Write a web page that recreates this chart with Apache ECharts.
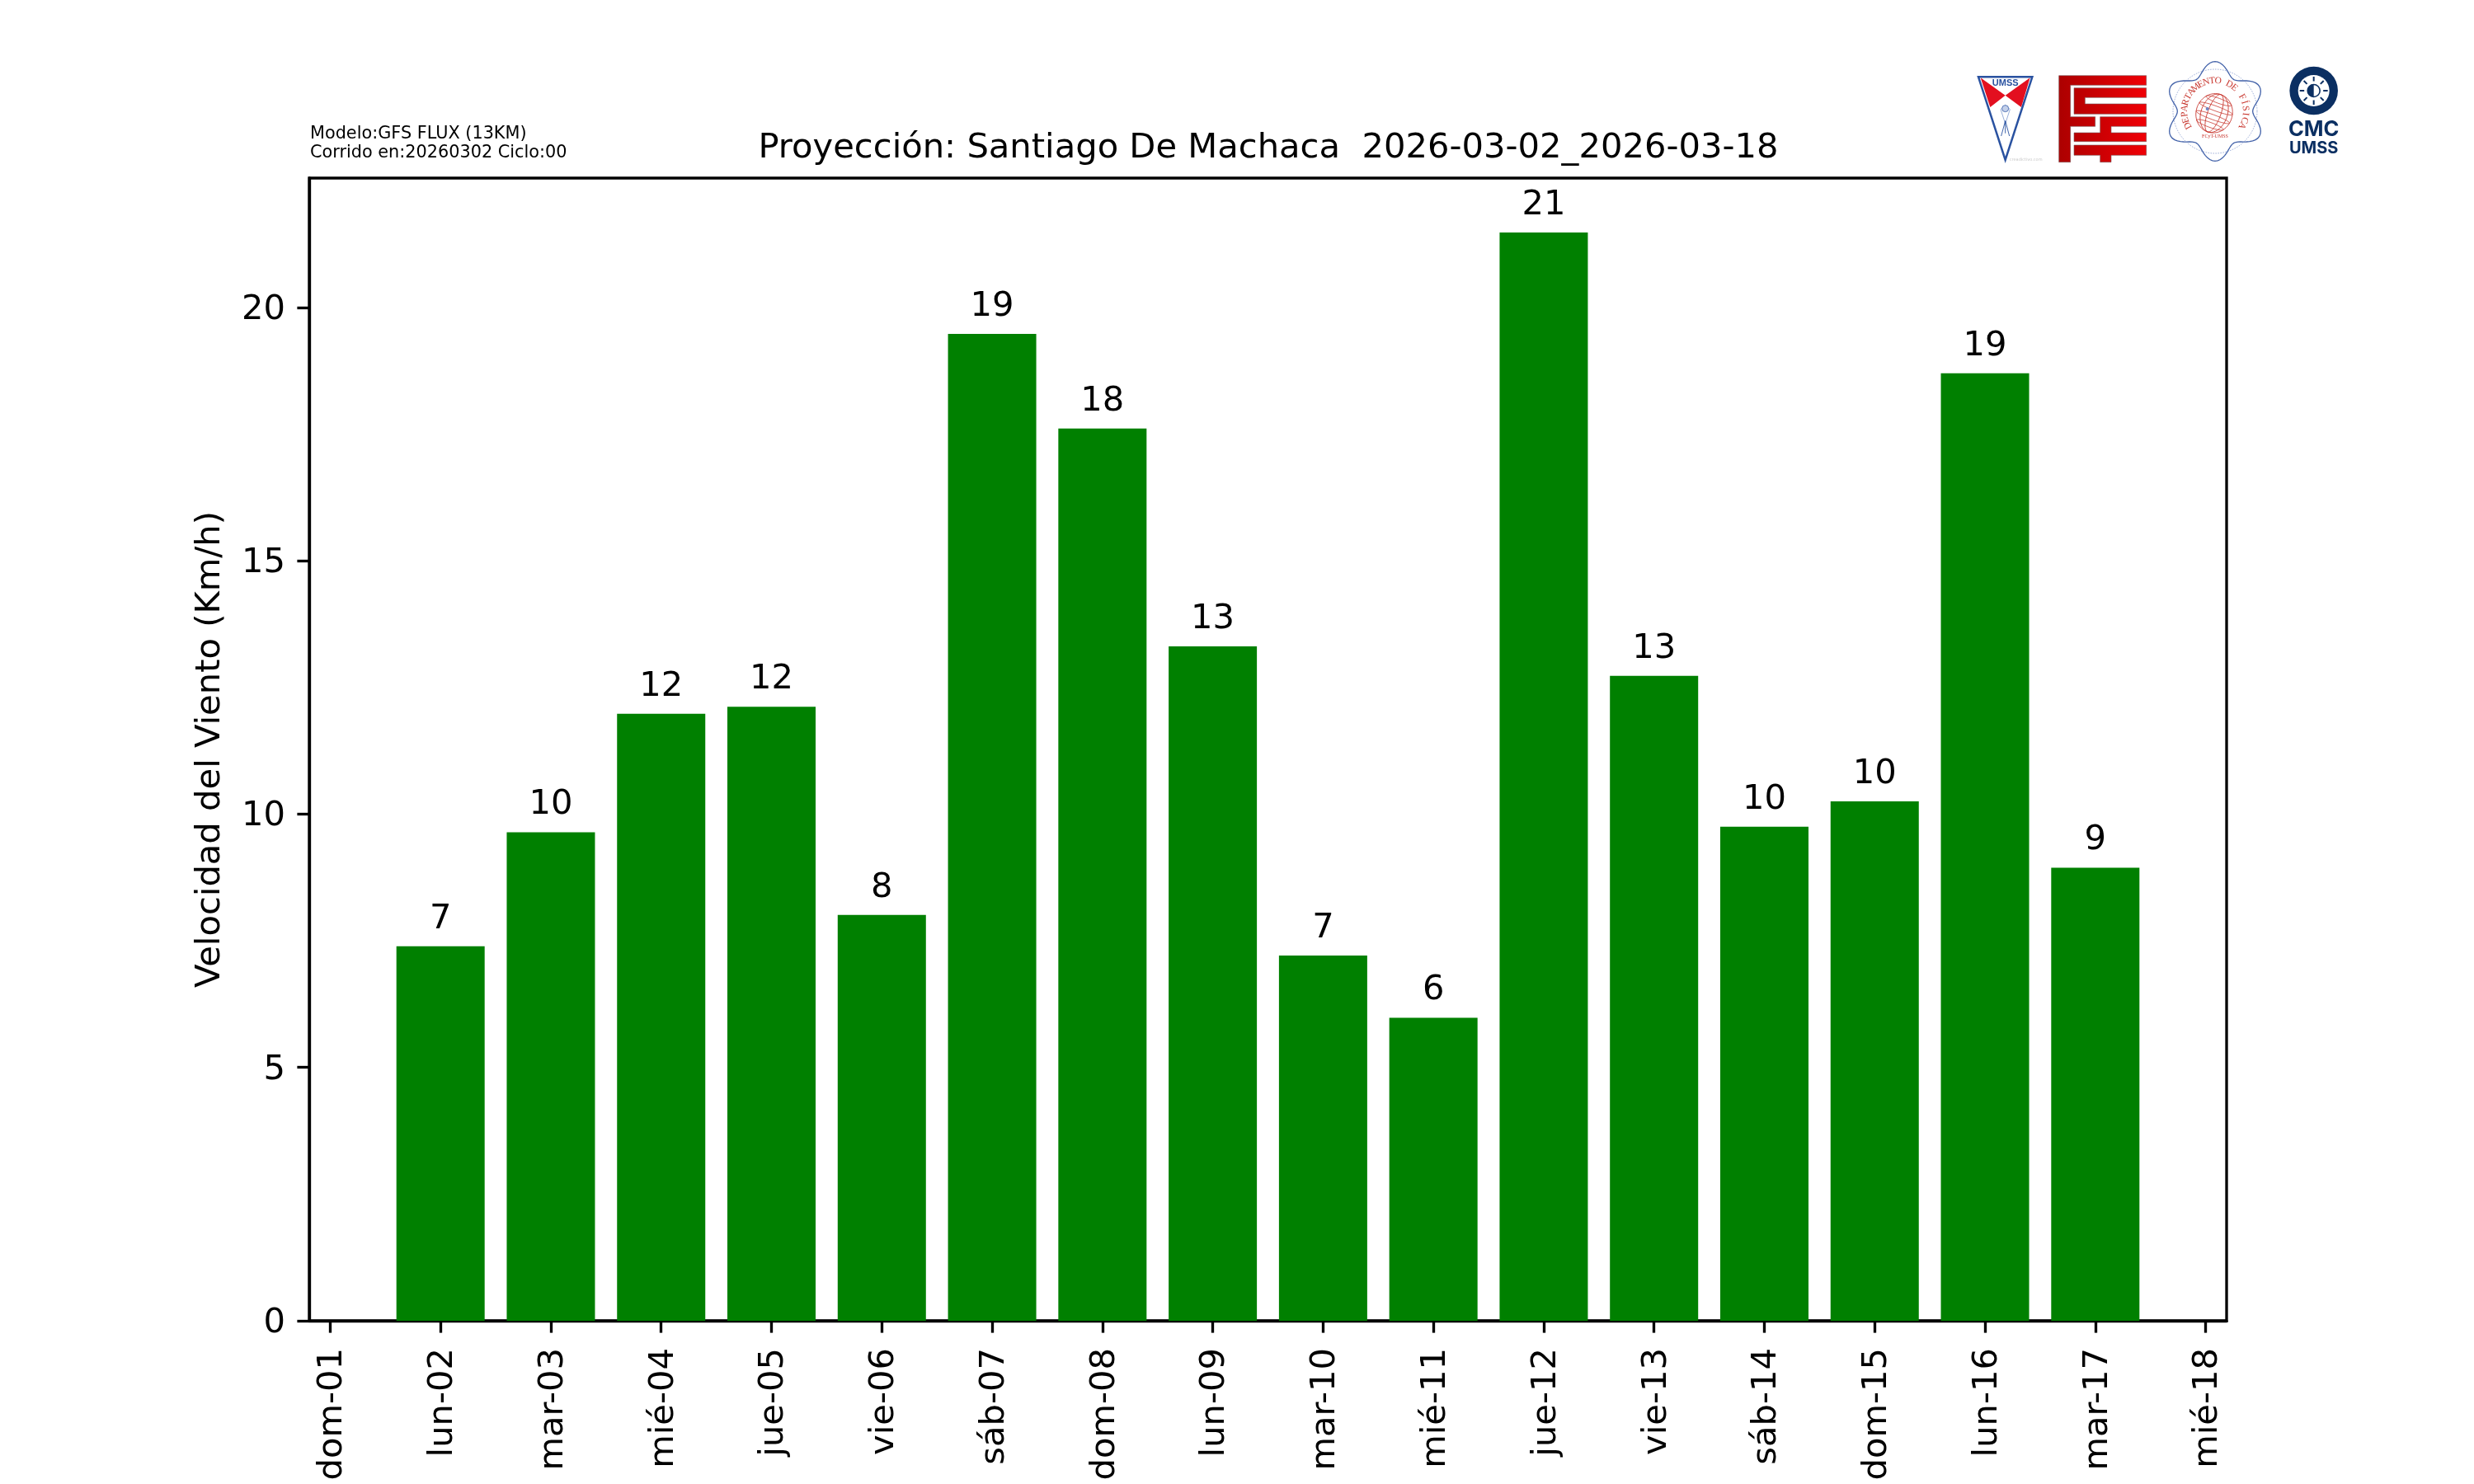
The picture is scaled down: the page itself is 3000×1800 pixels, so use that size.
<!DOCTYPE html>
<html>
<head>
<meta charset="utf-8">
<style>html,body{margin:0;padding:0;background:#fff}#c{width:3000px;height:1800px}</style>
<script src="https://cdn.jsdelivr.net/npm/echarts@6/dist/echarts.min.js"></script>
</head>
<body>
<div id="c"></div>
<script>
const tickDays = [1,2,3,4,5,6,7,8,9,10,11,12,13,14,15,16,17,18];
const tickLabels = ['dom-01','lun-02','mar-03','mié-04','jue-05','vie-06','sáb-07','dom-08','lun-09','mar-10','mié-11','jue-12','vie-13','sáb-14','dom-15','lun-16','mar-17','mié-18'];
const barDays = [2,3,4,5,6,7,8,9,10,11,12,13,14,15,16,17];
const windSpeed = [7.39,9.64,11.98,12.12,8.01,19.48,17.61,13.31,7.21,5.98,21.48,12.73,9.75,10.25,18.70,8.94];
const barLabels = ['7','10','12','12','8','19','18','13','7','6','21','13','10','10','19','9'];
const yTicks = [0,5,10,15,20];

const FONT = 'DejaVu Sans';
const X = x => 2350 + x / 3, Y = y => 50 + y / 3;
const P = pts => pts.map(p => [X(p[0]), Y(p[1])]);
const BLUE = '#2a52a0', NAVY = '#0b2f62';
const g = [];

// small model note
g.push({type:'text',left:376,top:152,silent:true,style:{text:'Modelo:GFS FLUX (13KM)',font:'20.8px "DejaVu Sans"',fill:'#000'}});
g.push({type:'text',left:376,top:175,silent:true,style:{text:'Corrido en:20260302 Ciclo:00',font:'20.8px "DejaVu Sans"',fill:'#000'}});

// UMSS shield
g.push({type:'polygon',shape:{points:P([[155,133],[245,197],[190,240]])},style:{fill:'#e30f1f'}});
g.push({type:'polygon',shape:{points:P([[335,133],[245,197],[303,240]])},style:{fill:'#e30f1f'}});
g.push({type:'polygon',shape:{points:P([[147,130],[343,130],[245,432]])},style:{fill:'none',stroke:BLUE,lineWidth:2.5}});
g.push({type:'text',x:X(245),y:Y(153),style:{text:'UMSS',font:'bold 11px "Liberation Sans"',fill:BLUE,align:'center',verticalAlign:'middle'}});
g.push({type:'polygon',shape:{points:P([[245,232],[262,248],[245,300],[228,248]])},style:{fill:'none',stroke:'#7f9bd0',lineWidth:0.8}});
g.push({type:'circle',shape:{cx:X(245),cy:Y(245),r:4},style:{fill:'#c3d0ea',stroke:BLUE,lineWidth:0.7}});
[[230,345],[245,335],[260,345]].forEach(p=>g.push({type:'line',shape:{x1:X(245),y1:Y(290),x2:X(p[0]),y2:Y(p[1])},style:{stroke:BLUE,lineWidth:0.9}}));
g.push({type:'text',x:X(320),y:Y(430),style:{text:'creadictivo.com',font:'5px "DejaVu Sans"',fill:'#c8c8c8',align:'center',verticalAlign:'middle'}});

// FCyT block logo
const grad = {type:'linear',global:true,x:X(440),y:0,x2:X(760),y2:0,colorStops:[{offset:0,color:'#ac0000'},{offset:1,color:'#f00006'}]};
[
 [[440,125],[758,125],[758,160],[482,160],[482,275],[572,275],[572,310],[482,310],[482,440],[440,440]],
 [[495,170],[758,170],[758,205],[535,205],[535,228],[758,228],[758,265],[495,265]],
 [[590,275],[758,275],[758,310],[630,310],[630,333],[758,333],[758,365],[495,365],[495,333],[590,333]],
 [[495,378],[758,378],[758,415],[630,415],[630,440],[590,440],[590,415],[495,415]]
].forEach(s=>g.push({type:'polygon',shape:{points:P(s)},style:{fill:grad,stroke:'#77595a',lineWidth:0.6}}));

// Departamento de Fisica seal
const cx3 = 1008, cy3 = 255, wav = [];
for (let a = 0; a <= 360; a += 3) {
  const t = a * Math.PI / 180, r = 157 + 24 * Math.cos(6 * t);
  wav.push([cx3 + 1.03 * r * Math.sin(t), cy3 - r * Math.cos(t)]);
}
g.push({type:'polyline',shape:{points:P(wav),smooth:0},style:{fill:'none',stroke:'#4060a8',lineWidth:1.3}});
g.push({type:'circle',shape:{cx:X(cx3),cy:Y(cy3),r:51},style:{fill:'none',stroke:'#6f86c4',lineWidth:0.7,lineDash:[1.5,1.5]}});
const arcText = 'DEPARTAMENTO DE FÍSICA', n = arcText.length;
for (let i = 0; i < n; i++) {
  const a = (-118 + 236 * i / (n - 1)) * Math.PI / 180, r = 37;
  g.push({type:'text',x:X(cx3)+r*Math.sin(a),y:Y(cy3)-r*Math.cos(a),rotation:-a,
    style:{text:arcText[i],font:'11.5px "Liberation Serif"',fill:'#c8372f',align:'center',verticalAlign:'middle'}});
}
g.push({type:'text',x:X(1008),y:Y(345),style:{text:'FCyT-UMSS',font:'6px "Liberation Serif"',fill:'#c8372f',align:'center',verticalAlign:'middle'}});
[22,16,8].forEach(rx=>{
  g.push({type:'ellipse',x:X(1005),y:Y(262),rotation:-20*Math.PI/180,shape:{cx:0,cy:0,rx:rx,ry:24},style:{fill:'none',stroke:'#c8372f',lineWidth:0.8}});
});
[-16,-6,5,15].forEach(d=>g.push({type:'ellipse',x:X(1005),y:Y(262),rotation:-20*Math.PI/180,shape:{cx:0,cy:d,rx:Math.sqrt(576-d*d)*0.92,ry:3},style:{fill:'none',stroke:'#c8372f',lineWidth:0.7}}));
g.push({type:'circle',shape:{cx:X(980),cy:Y(246),r:2},style:{fill:'#6f86c4'}});

// CMC UMSS
g.push({type:'circle',shape:{cx:X(1367),cy:Y(180),r:29.3},style:{fill:NAVY}});
g.push({type:'circle',shape:{cx:X(1367),cy:Y(180),r:19},style:{fill:'#fff'}});
for (let a = 0; a < 360; a += 45) {
  const t = a * Math.PI / 180;
  g.push({type:'line',shape:{x1:X(1367)+11.5*Math.cos(t),y1:Y(180)+11.5*Math.sin(t),x2:X(1367)+17*Math.cos(t),y2:Y(180)+17*Math.sin(t)},style:{stroke:NAVY,lineWidth:2}});
}
g.push({type:'circle',shape:{cx:X(1367),cy:Y(180),r:7.5},style:{fill:'#fff',stroke:NAVY,lineWidth:1.6}});
g.push({type:'sector',shape:{cx:X(1367),cy:Y(180),r:7.5,r0:0,startAngle:Math.PI/2,endAngle:Math.PI*3/2},style:{fill:NAVY}});
g.push({type:'text',x:X(1367),y:Y(323),style:{text:'CMC',font:'bold 25.5px "Inter"',fill:NAVY,align:'center',verticalAlign:'middle'}});
g.push({type:'text',x:X(1367),y:Y(389),style:{text:'UMSS',font:'bold 20px "Inter"',fill:NAVY,align:'center',verticalAlign:'middle'}});

const chart = echarts.init(document.getElementById('c'), null, {renderer:'canvas'});
chart.setOption({
  animation:false,
  backgroundColor:'#fff',
  textStyle:{fontFamily:FONT},
  title:{text:'Proyección: Santiago De Machaca  2026-03-02_2026-03-18',left:1533,textAlign:'center',top:154,
    textStyle:{fontFamily:FONT,fontSize:41.67,fontWeight:'normal',color:'#000'}},
  grid:{left:375,right:300,top:216,bottom:198,show:true,borderColor:'#000',borderWidth:3.33,backgroundColor:'#fff',containLabel:false},
  xAxis:{type:'value',min:0.81,max:18.19,
    splitLine:{show:false},
    axisLine:{show:true,onZero:false,lineStyle:{color:'#000',width:3.33}},
    axisTick:{show:true,length:14.6,customValues:tickDays,lineStyle:{color:'#000',width:3.33}},
    axisLabel:{show:true,customValues:tickDays,rotate:90,margin:33,fontFamily:FONT,fontSize:41.67,color:'#000',hideOverlap:false,
      formatter:v=>'{t|'+tickLabels[tickDays.indexOf(v)]+'}',
      rich:{t:{padding:[6,0,0,0],fontFamily:FONT,fontSize:41.67,color:'#000'}}}},
  yAxis:{type:'value',min:0,max:22.554,
    name:'Velocidad del Viento (Km/h)',nameLocation:'middle',nameGap:99,nameRotate:90,
    nameTextStyle:{fontFamily:FONT,fontSize:41.67,color:'#000'},
    splitLine:{show:false},
    axisLine:{show:true,lineStyle:{color:'#000',width:3.33}},
    axisTick:{show:true,length:14.6,customValues:yTicks,lineStyle:{color:'#000',width:3.33}},
    axisLabel:{show:true,customValues:yTicks,margin:29,fontFamily:FONT,fontSize:41.67,color:'#000',
      formatter:'{t|{value}}',
      rich:{t:{padding:[6,0,0,0],fontFamily:FONT,fontSize:41.67,color:'#000'}}}},
  series:[{type:'bar',barWidth:107,
    data:windSpeed.map((v,i)=>[barDays[i],v]),
    itemStyle:{color:'#008000'},
    label:{show:true,position:'top',distance:12,fontFamily:FONT,fontSize:41.67,color:'#000',
      formatter:p=>barLabels[p.dataIndex]}}],
  graphic:g
});
</script>
</body>
</html>
